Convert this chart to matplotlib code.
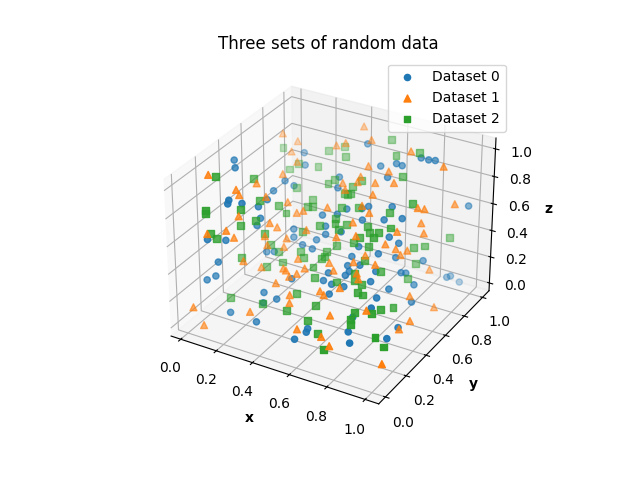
import numpy as np
import matplotlib
matplotlib.use('Agg')
import matplotlib.pyplot as plt

x0 = [3,6,19,21,13,13,17,21,20,19,48,23,59,67,69,42,66,44,22,54,60,63,74,77,81,84,99,22,20,7,12,22,25,10,9,6,30,43,50,63,73,81,47,30,30,47,56,42,78,36,42,65,63,75,79,69,63,65,64,56,77,82,40,55,60,66,77,83,61,81,87,83,94,95,97,88,37,32,18,33,83,84,77,58,59,78,94,55,94,81,91]
y0 = [40,36,49,40,19,18,24,32,58,78,89,72,82,83,85,72,76,67,63,58,62,63,66,89,89,90,97,32,32,9,17,37,39,13,12,9,21,54,56,57,60,63,50,49,49,50,49,50,56,47,46,50,47,51,61,44,43,41,39,37,45,61,30,34,33,34,40,47,29,60,74,64,86,88,94,63,21,17,10,9,35,28,23,14,11,17,36,7,25,13,55]
z0 = [96,94,74,74,84,82,80,74,76,84,94,80,86,90,88,78,84,74,70,68,68,70,72,94,94,94,62,66,60,60,56,38,38,42,32,30,22,62,64,64,66,68,58,50,44,52,58,46,58,42,42,50,44,48,40,42,40,38,36,36,40,30,30,32,32,32,36,28,28,52,32,28,14,14,6,22,20,18,10,10,30,28,22,12,12,16,12,8,12,12,16]

x1 = [7,2,12,13,14,17,19,41,13,33,37,49,13,18,54,65,70,45,52,52,61,48,63,25,44,60,71,89,96,85,87,15,24,25,7,13,14,23,23,28,17,22,33,33,30,33,65,59,37,29,54,64,80,76,37,53,65,68,75,43,57,69,35,38,41,71,81,56,65,86,88,80,83,89,90,3,8,27,43,58,44,82,66,54,67,73,98,94,97,95]
y1 = [78,19,27,28,42,61,42,98,82,85,87,91,76,73,79,79,75,70,75,72,73,67,67,52,57,62,90,89,88,71,74,24,37,42,9,16,21,34,36,43,24,32,34,27,52,53,60,55,49,44,48,49,60,56,41,43,45,51,48,37,40,41,33,31,33,39,62,29,32,73,72,59,65,77,55,1,2,13,23,29,21,27,21,11,11,8,13,37,67,46]
z1 = [94,98,86,82,82,78,74,99,88,90,92,96,84,80,86,86,82,76,80,78,80,74,76,66,66,70,96,92,68,72,70,70,60,54,64,64,56,52,44,40,38,30,32,26,60,62,68,62,52,46,54,58,60,52,36,38,42,44,42,34,36,38,32,30,32,36,42,28,32,60,54,48,44,24,20,14,2,12,24,26,20,26,20,12,12,10,4,10,6,10]

x2 = [4,10,13,20,24,6,17,58,37,31,41,64,29,19,17,38,40,54,24,51,52,48,50,34,36,34,51,58,72,75,83,6,16,21,8,10,23,24,27,16,25,31,27,74,50,51,44,56,67,69,35,54,78,74,73,66,62,53,70,37,49,40,49,49,47,70,78,50,68,69,73,61,74,45,84,88,95,85,85,15,31,45,76,57,88,86,85,77,57,77,78,64,91,95,71]
y2 = [22,73,41,35,45,10,23,94,86,81,80,88,74,72,67,68,71,72,62,69,65,66,66,60,57,55,58,62,80,91,69,10,24,29,10,12,34,37,40,24,32,37,47,63,54,52,49,54,55,53,49,50,57,53,50,49,50,50,50,43,47,41,43,45,38,47,48,34,41,39,38,36,33,26,69,73,86,70,62,15,18,17,34,23,42,33,26,25,16,21,19,13,19,20,6]
z2 = [96,88,86,76,68,80,76,98,90,88,88,92,80,80,78,74,76,80,70,76,74,72,72,66,64,64,68,68,84,96,76,78,64,66,64,60,54,44,38,40,32,34,62,70,62,60,58,60,62,60,50,58,64,62,60,58,52,46,52,40,42,38,40,40,36,44,38,32,38,34,34,32,32,24,44,44,44,32,26,16,16,18,30,22,20,24,26,24,16,22,20,12,16,10,8]

labels = ['Dataset 0', 'Dataset 1', 'Dataset 2']
ticks = [0.0, 0.2, 0.4, 0.6, 0.8, 1.0]

fig = plt.figure(figsize=(6.4, 4.8), dpi=100)
ax = fig.add_subplot(projection='3d')
for xs, ys, zs, marker, size, label in zip((x0, x1, x2), (y0, y1, y2), (z0, z1, z2), ('o', '^', 's'), (20, 25, 25), labels):
    ax.scatter(np.array(xs) / 100, np.array(ys) / 100, np.array(zs) / 100, marker=marker, s=size, label=label)
ax.set_xlim(-0.055, 1.07)
ax.set_ylim(-0.0635, 1.0735)
ax.set_zlim(-0.06, 1.0775)
ax.set_xticks(ticks)
ax.set_yticks(ticks)
ax.set_zticks(ticks)
ax.set_title('Three sets of random data')
ax.set_xlabel('x', fontweight='bold')
ax.set_ylabel('y', fontweight='bold')
ax.set_zlabel('z', fontweight='bold')
ax.legend(loc='upper right', bbox_to_anchor=(1.0, 1.0))
fig.savefig('out.png')
